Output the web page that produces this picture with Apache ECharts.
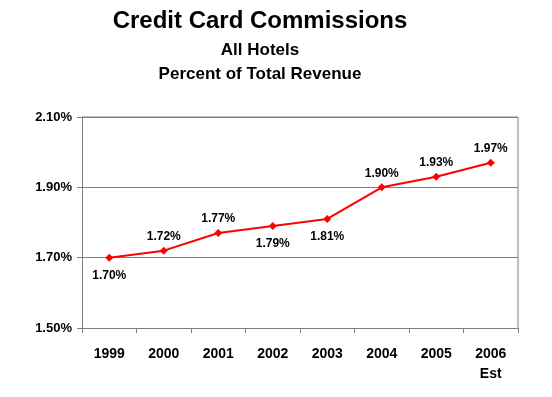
<!DOCTYPE html>
<html>
<head>
<meta charset="utf-8">
<title>Credit Card Commissions</title>
<script src="https://cdn.jsdelivr.net/npm/echarts@6/dist/echarts.min.js"></script>
<style>
  html, body { margin: 0; padding: 0; background: #fff; }
  #chart { width: 552px; height: 397px; }
</style>
</head>
<body>
<div id="chart"></div>
<script>
// chart data
var years = ['1999', '2000', '2001', '2002', '2003', '2004', '2005', '2006\nEst'];
var commissions = [1.70, 1.72, 1.77, 1.79, 1.81, 1.90, 1.93, 1.97];
var labelSide = ['bottom', 'top', 'top', 'bottom', 'bottom', 'top', 'top', 'top'];

var chart = echarts.init(document.getElementById('chart'));
var font = 'Liberation Sans, Arial, sans-serif';

var seriesData = commissions.map(function (v, i) {
    return {
        value: v,
        label: { position: labelSide[i], distance: labelSide[i] === 'top' ? 4 : 8 }
    };
});

var option = {
    animation: false,
    grid: { left: 82, right: 34, top: 117, bottom: 69 },
    xAxis: {
        type: 'category',
        data: years,
        boundaryGap: true,
        axisLine: { lineStyle: { color: '#808080' } },
        axisTick: { show: true, length: 5, lineStyle: { color: '#808080' } },
        axisLabel: { fontFamily: font, fontSize: 14, fontWeight: 'bold', color: '#000', margin: 16, lineHeight: 20 }
    },
    yAxis: {
        type: 'value',
        min: 1.50, max: 2.10, interval: 0.20,
        axisLine: { show: true, lineStyle: { color: '#808080' } },
        axisTick: { show: true, length: 5, lineStyle: { color: '#808080' } },
        splitLine: { lineStyle: { color: '#808080' } },
        axisLabel: {
            fontFamily: font, fontSize: 13, fontWeight: 'bold', color: '#000', margin: 10,
            formatter: function (v) { return v.toFixed(2) + '%'; }
        }
    },
    series: [{
        type: 'line',
        data: seriesData,
        color: '#ff0000',
        lineStyle: { width: 2, color: '#ff0000' },
        symbol: 'diamond',
        symbolSize: 8,
        itemStyle: { color: '#ff0000' },
        label: {
            show: true,
            fontFamily: font, fontSize: 12, fontWeight: 'bold', color: '#000',
            formatter: function (p) { return p.value.toFixed(2) + '%'; }
        }
    }],
    graphic: [
        // titles sit a little left of the page centre
        { type: 'text', x: 260, y: 21, style: { text: 'Credit Card Commissions', align: 'center', verticalAlign: 'middle',
            font: 'bold 24px ' + font, fill: '#000' } },
        { type: 'text', x: 260, y: 50, style: { text: 'All Hotels', align: 'center', verticalAlign: 'middle',
            font: 'bold 17px ' + font, fill: '#000' } },
        { type: 'text', x: 260, y: 74, style: { text: 'Percent of Total Revenue', align: 'center', verticalAlign: 'middle',
            font: 'bold 17px ' + font, fill: '#000' } },
        // plot frame top and right
        { type: 'line', shape: { x1: 82, y1: 117, x2: 518, y2: 117 }, style: { stroke: '#808080', lineWidth: 1 } },
        { type: 'line', shape: { x1: 518, y1: 117, x2: 518, y2: 328 }, style: { stroke: '#808080', lineWidth: 1 } }
    ]
};

chart.setOption(option);
</script>
</body>
</html>
